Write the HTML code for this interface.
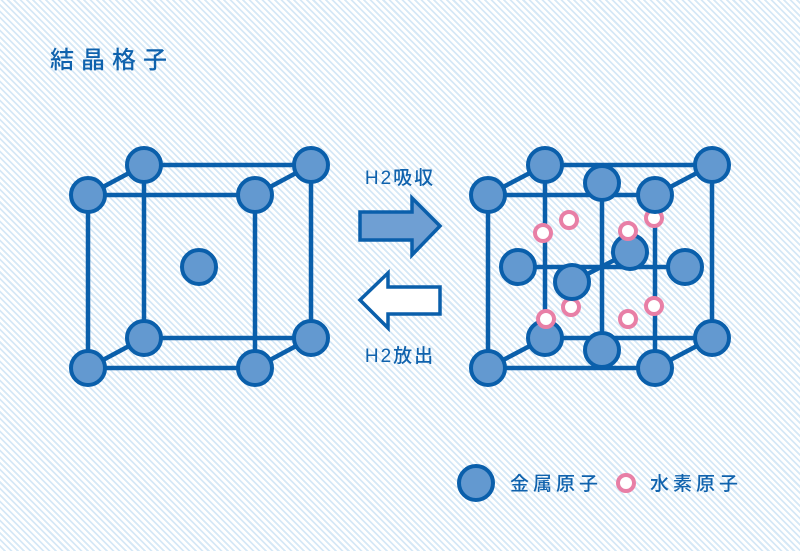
<!DOCTYPE html>
<html><head><meta charset="utf-8"><style>
html,body{margin:0;padding:0;}
body{width:800px;height:551px;overflow:hidden;background:#fff repeating-linear-gradient(45deg,#fff 0px,#fff 2.7px,#d6e8f6 2.7px,#d6e8f6 4.5px);}
svg{position:absolute;left:0;top:0;}
text{font-family:"Liberation Sans","Noto Sans CJK JP",sans-serif;fill:#0f62ad;font-weight:500;}
</style></head><body>
<svg width="800" height="551" viewBox="0 0 800 551">
<g stroke="#0a5fab" stroke-width="4.5" fill="none">
<rect x="88" y="195" width="167" height="173"/>
<rect x="144" y="165" width="167" height="173"/>
<line x1="88" y1="195" x2="144" y2="165"/><line x1="255" y1="195" x2="311" y2="165"/>
<line x1="88" y1="368" x2="144" y2="338"/><line x1="255" y1="368" x2="311" y2="338"/>
<rect x="545" y="165" width="167" height="173"/>
<line x1="545" y1="165" x2="488" y2="195"/><line x1="712" y1="165" x2="655" y2="195"/>
<line x1="545" y1="338" x2="488" y2="368"/><line x1="712" y1="338" x2="655" y2="368"/>
<line x1="602" y1="183" x2="602" y2="350"/>
<line x1="518" y1="267" x2="685" y2="267"/>
<line x1="572" y1="282" x2="630" y2="252"/>
<rect x="488" y="195" width="167" height="173"/>
</g>
<g fill="#6399d0" stroke="#0a5fab" stroke-width="4">
<circle cx="144" cy="165" r="17"/><circle cx="311" cy="165" r="17"/>
<circle cx="144" cy="338" r="17"/><circle cx="311" cy="338" r="17"/>
<circle cx="199" cy="267" r="17"/>
<circle cx="88" cy="195" r="17"/><circle cx="255" cy="195" r="17"/>
<circle cx="88" cy="368" r="17"/><circle cx="255" cy="368" r="17"/>
</g>
<g fill="#fff" stroke="#e87fa6" stroke-width="4">
<circle cx="569" cy="220" r="8"/><circle cx="654" cy="218" r="8"/>
<circle cx="571" cy="307" r="8"/><circle cx="628" cy="319" r="8"/><circle cx="654" cy="306" r="8"/>
</g>
<g fill="#6399d0" stroke="#0a5fab" stroke-width="4">
<circle cx="545" cy="165" r="17"/><circle cx="712" cy="165" r="17"/>
<circle cx="545" cy="338" r="17"/><circle cx="712" cy="338" r="17"/>
<circle cx="630" cy="252" r="17"/>
<circle cx="518" cy="267" r="17"/><circle cx="685" cy="267" r="17"/>
<circle cx="602" cy="183" r="17"/><circle cx="602" cy="350" r="17"/>
<circle cx="572" cy="282" r="17"/>
<circle cx="488" cy="195" r="17"/><circle cx="655" cy="195" r="17"/>
<circle cx="488" cy="368" r="17"/><circle cx="655" cy="368" r="17"/>
</g>
<g fill="#fff" stroke="#e87fa6" stroke-width="4">
<circle cx="543" cy="233" r="8"/><circle cx="628" cy="231" r="8"/>
<circle cx="546" cy="319" r="8"/>
</g>
<path d="M360 212 H412 V198 L440 226 L412 255 V240 H360 Z" fill="#6f9fd3" stroke="#0a5fab" stroke-width="3.5"/>
<path d="M440 287 H388 V273 L360 300 L388 328 V314 H440 Z" fill="#fff" stroke="#0a5fab" stroke-width="3.5"/>
<text x="400" y="184" font-size="19" letter-spacing="2" text-anchor="middle">H2吸収</text>
<text x="400" y="362" font-size="19" letter-spacing="2" text-anchor="middle">H2放出</text>
<text x="50" y="68" font-size="24" letter-spacing="7">結晶格子</text>
<circle cx="476" cy="483" r="17" fill="#6399d0" stroke="#0a5fab" stroke-width="4"/>
<text x="510" y="490" font-size="19" letter-spacing="4">金属原子</text>
<circle cx="626" cy="483" r="8" fill="#fff" stroke="#e87fa6" stroke-width="4"/>
<text x="650" y="490" font-size="19" letter-spacing="4">水素原子</text>
</svg>
</body></html>
